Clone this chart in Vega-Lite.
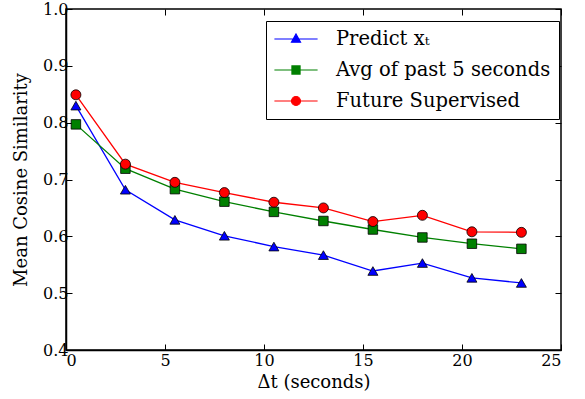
{
  "$schema": "https://vega.github.io/schema/vega-lite/v6.json",
  "width": 495,
  "height": 341,
  "autosize": "none",
  "padding": {"left": 66, "top": 9, "right": 24, "bottom": 49},
  "background": "white",
  "config": {
    "view": {"stroke": "black", "strokeWidth": 1.5},
    "font": "DejaVu Serif",
    "axis": {
      "grid": false,
      "domainColor": "black",
      "domainWidth": 1.5,
      "tickColor": "black",
      "tickSize": -6,
      "tickWidth": 1,
      "labelFont": "DejaVu Serif",
      "labelFontSize": 16,
      "labelColor": "black",
      "titleFont": "DejaVu Serif",
      "titleFontSize": 18,
      "titleFontWeight": "normal",
      "titleColor": "black"
    }
  },
  "data": {
    "values": [
      {"dt": 0.5, "value": 0.830, "series": "Predict xₜ"},
      {"dt": 3, "value": 0.682, "series": "Predict xₜ"},
      {"dt": 5.5, "value": 0.629, "series": "Predict xₜ"},
      {"dt": 8, "value": 0.601, "series": "Predict xₜ"},
      {"dt": 10.5, "value": 0.582, "series": "Predict xₜ"},
      {"dt": 13, "value": 0.567, "series": "Predict xₜ"},
      {"dt": 15.5, "value": 0.539, "series": "Predict xₜ"},
      {"dt": 18, "value": 0.553, "series": "Predict xₜ"},
      {"dt": 20.5, "value": 0.527, "series": "Predict xₜ"},
      {"dt": 23, "value": 0.518, "series": "Predict xₜ"},
      {"dt": 0.5, "value": 0.797, "series": "Avg of past 5 seconds"},
      {"dt": 3, "value": 0.719, "series": "Avg of past 5 seconds"},
      {"dt": 5.5, "value": 0.683, "series": "Avg of past 5 seconds"},
      {"dt": 8, "value": 0.661, "series": "Avg of past 5 seconds"},
      {"dt": 10.5, "value": 0.643, "series": "Avg of past 5 seconds"},
      {"dt": 13, "value": 0.627, "series": "Avg of past 5 seconds"},
      {"dt": 15.5, "value": 0.612, "series": "Avg of past 5 seconds"},
      {"dt": 18, "value": 0.598, "series": "Avg of past 5 seconds"},
      {"dt": 20.5, "value": 0.587, "series": "Avg of past 5 seconds"},
      {"dt": 23, "value": 0.578, "series": "Avg of past 5 seconds"},
      {"dt": 0.5, "value": 0.849, "series": "Future Supervised"},
      {"dt": 3, "value": 0.727, "series": "Future Supervised"},
      {"dt": 5.5, "value": 0.695, "series": "Future Supervised"},
      {"dt": 8, "value": 0.677, "series": "Future Supervised"},
      {"dt": 10.5, "value": 0.660, "series": "Future Supervised"},
      {"dt": 13, "value": 0.650, "series": "Future Supervised"},
      {"dt": 15.5, "value": 0.626, "series": "Future Supervised"},
      {"dt": 18, "value": 0.637, "series": "Future Supervised"},
      {"dt": 20.5, "value": 0.608, "series": "Future Supervised"},
      {"dt": 23, "value": 0.607, "series": "Future Supervised"}
    ]
  },
  "layer": [
    {
      "mark": {"type": "line", "strokeWidth": 1.3, "clip": true},
      "encoding": {
        "x": {"field": "dt", "type": "quantitative", "scale": {"domain": [0, 25], "nice": false},
              "axis": {"values": [0, 5, 10, 15, 20, 25], "title": "Δt (seconds)", "labelPadding": 8, "titlePadding": 5}},
        "y": {"field": "value", "type": "quantitative", "scale": {"domain": [0.4, 1.0], "nice": false, "zero": false},
              "axis": {"values": [0.4, 0.5, 0.6, 0.7, 0.8, 0.9, 1.0], "format": ".1f", "title": "Mean Cosine Similarity", "labelPadding": 4, "titlePadding": 12}},
        "color": {"field": "series", "type": "nominal",
                  "scale": {"domain": ["Predict xₜ", "Avg of past 5 seconds", "Future Supervised"], "range": ["#0000ff", "#008000", "#ff0000"]},
                  "legend": {
                    "orient": "none", "legendX": 200, "legendY": 12,
                    "title": null,
                    "strokeColor": "black", "fillColor": "white",
                    "padding": 8,
                    "labelFont": "DejaVu Serif", "labelFontSize": 19.5, "labelColor": "black", "labelLimit": 400,
                    "symbolSize": 324, "labelOffset": 42, "rowPadding": 11,
                    "symbolStrokeWidth": 1.2,
                    "encode": {
                      "symbols": {"update": {
                        "shape": {"signal": "datum.value === 'Predict xₜ' ? 'M-2.4,0H2.4M0,-0.55L0.5,0.35L-0.5,0.35Z' : datum.value === 'Avg of past 5 seconds' ? 'M-2.4,0H2.4M-0.45,-0.45H0.45V0.45H-0.45Z' : 'M-2.4,0H2.4M-0.5,0A0.5,0.5,0,1,1,0.5,0A0.5,0.5,0,1,1,-0.5,0Z'"},
                        "x": {"value": 22}
                      }}
                    }
                  }}
      }
    },
    {
      "transform": [{"filter": "datum.series === 'Predict xₜ'"}],
      "mark": {"type": "point", "shape": "triangle-up", "filled": true, "stroke": "black", "strokeWidth": 0.8, "size": 100, "opacity": 1},
      "encoding": {
        "x": {"field": "dt", "type": "quantitative", "axis": null},
        "y": {"field": "value", "type": "quantitative", "axis": null},
        "color": {"field": "series", "type": "nominal"}
      }
    },
    {
      "transform": [{"filter": "datum.series === 'Avg of past 5 seconds'"}],
      "mark": {"type": "point", "shape": "square", "filled": true, "stroke": "black", "strokeWidth": 0.8, "size": 90, "opacity": 1},
      "encoding": {
        "x": {"field": "dt", "type": "quantitative", "axis": null},
        "y": {"field": "value", "type": "quantitative", "axis": null},
        "color": {"field": "series", "type": "nominal"}
      }
    },
    {
      "transform": [{"filter": "datum.series === 'Future Supervised'"}],
      "mark": {"type": "point", "shape": "circle", "filled": true, "stroke": "black", "strokeWidth": 0.8, "size": 100, "opacity": 1},
      "encoding": {
        "x": {"field": "dt", "type": "quantitative", "axis": null},
        "y": {"field": "value", "type": "quantitative", "axis": null},
        "color": {"field": "series", "type": "nominal"}
      }
    },
    {
      "mark": {"type": "rule", "opacity": 0},
      "encoding": {
        "x": {"field": "dt", "type": "quantitative", "axis": {"orient": "top", "labels": false, "title": null, "values": [0, 5, 10, 15, 20, 25], "domain": false}},
        "y": {"field": "value", "type": "quantitative", "axis": {"orient": "right", "labels": false, "title": null, "values": [0.4, 0.5, 0.6, 0.7, 0.8, 0.9, 1.0], "domain": false}}
      }
    }
  ],
  "resolve": {"axis": {"x": "independent", "y": "independent"}}
}
